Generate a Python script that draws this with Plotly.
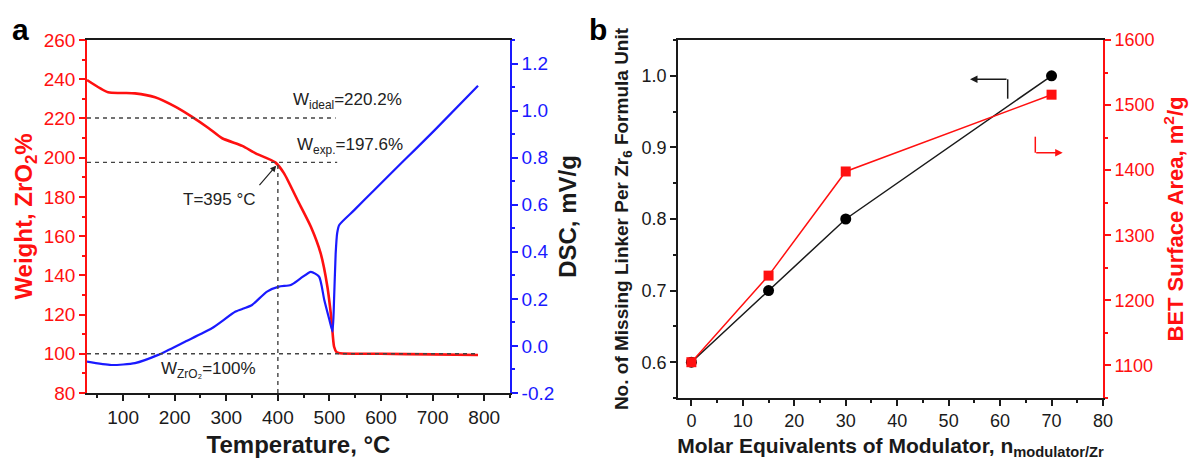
import plotly.graph_objects as go

# ---------------- data: panel a (TGA / DSC) ----------------
tga_temp = [30, 71, 100, 123, 162, 201, 233, 266, 292, 331, 357, 395, 412, 438,
            464, 483, 496, 504, 509, 514, 520, 600, 700, 788]
tga_weight = [239.6, 233.3, 233.0, 232.8, 230.8, 226.0, 220.9, 215.0, 209.9, 206.0,
              202.2, 197.6, 192.0, 178.4, 164.8, 151.2, 134.2, 117.2, 103.6, 100.8,
              100.3, 100.0, 99.7, 99.4]

dsc_temp = [30, 77, 123, 168, 220, 272, 318, 335, 350, 379, 402, 425, 444, 464, 480,
            490, 500, 506, 509, 512, 515, 519, 548, 587, 639, 665, 704, 788]
dsc_val = [-0.067, -0.081, -0.073, -0.038, 0.018, 0.075, 0.146, 0.16, 0.174, 0.231,
           0.252, 0.259, 0.287, 0.315, 0.294, 0.195, 0.11, 0.061, 0.2, 0.39, 0.48,
           0.514, 0.577, 0.663, 0.776, 0.832, 0.917, 1.106]

w_ideal = 220.2
w_exp = 197.6
w_zro2 = 100.0
t_onset = 400

temp_ticks = [100, 200, 300, 400, 500, 600, 700, 800]
weight_ticks = [80, 100, 120, 140, 160, 180, 200, 220, 240, 260]
dsc_ticks = [-0.2, 0.0, 0.2, 0.4, 0.6, 0.8, 1.0, 1.2]
dsc_ticktext = ["-0.2", "0.0", "0.2", "0.4", "0.6", "0.8", "1.0", "1.2"]

# ---------------- data: panel b ----------------
mod_eq = [0, 15, 30, 70]
missing_linker = [0.6, 0.7, 0.8, 1.0]
bet_area = [1105, 1238, 1398, 1516]

mod_ticks = [0, 10, 20, 30, 40, 50, 60, 70, 80]
ml_ticks = [0.6, 0.7, 0.8, 0.9, 1.0]
bet_ticks = [1100, 1200, 1300, 1400, 1500, 1600]

# ---------------- styling ----------------
W, H = 1200, 460
FONT = "Arial, 'Liberation Sans', sans-serif"
RED = "#ff1010"
BLUE = "#1a1aff"
BLACK = "#1a1a1a"
DASH = "#444444"


def px(x):
    return x / W


def py(y):
    return 1 - y / H


fig = go.Figure()

fig.add_trace(go.Scatter(x=tga_temp, y=tga_weight, mode="lines",
                         line=dict(color=RED, width=2.6, shape="spline", smoothing=0.6),
                         xaxis="x", yaxis="y", showlegend=False))
fig.add_trace(go.Scatter(x=dsc_temp, y=dsc_val, mode="lines",
                         line=dict(color=BLUE, width=2.2, shape="spline", smoothing=0.6),
                         xaxis="x", yaxis="y2", showlegend=False))

fig.add_trace(go.Scatter(x=mod_eq, y=missing_linker, mode="lines+markers",
                         line=dict(color=BLACK, width=1.5),
                         marker=dict(symbol="circle", size=11, color="black"),
                         xaxis="x2", yaxis="y3", showlegend=False))
fig.add_trace(go.Scatter(x=mod_eq, y=bet_area, mode="lines+markers",
                         line=dict(color=RED, width=1.5),
                         marker=dict(symbol="square", size=10, color=RED),
                         xaxis="x2", yaxis="y4", showlegend=False))


def axis_common(color, tickfs):
    return dict(showgrid=False, zeroline=False, showline=True, linecolor=color,
                linewidth=1.6, ticks="outside", ticklen=6, tickwidth=1.5,
                automargin=False,
                tickcolor=color, tickfont=dict(family=FONT, size=tickfs, color=color))


xa = axis_common(BLACK, 19)
xa.update(domain=[px(87), px(510)], range=[30, 850], anchor="y", mirror=True,
          tickmode="array", tickvals=temp_ticks,
          minor=dict(dtick=50, tick0=0, ticklen=3.5, ticks="outside", tickcolor=BLACK),
          title=dict(text="<b>Temperature, °C</b>", standoff=10,
                     font=dict(family=FONT, size=24, color=BLACK)))

ya = axis_common(RED, 19)
ya.update(domain=[py(393), py(40)], range=[80, 260], anchor="x",
          tickmode="array", tickvals=weight_ticks,
          minor=dict(dtick=10, tick0=0, ticklen=3.5, ticks="outside", tickcolor=RED),
          title=dict(text="<b>Weight, ZrO<sub>2</sub>%</b>", standoff=4,
                     font=dict(family=FONT, size=24, color=RED)))

ya2 = axis_common(BLUE, 19)
ya2.update(overlaying="y", side="right", anchor="x", range=[-0.2, 1.3],
           tickmode="array", tickvals=dsc_ticks, ticktext=dsc_ticktext,
           minor=dict(dtick=0.1, tick0=0, ticklen=3.5, ticks="outside", tickcolor=BLUE),
           title=dict(text="<b>DSC, mV/g</b>", standoff=6,
                      font=dict(family=FONT, size=24, color=BLACK)))

xb = axis_common(BLACK, 18)
xb.update(domain=[px(678), px(1103)], range=[-2.6, 80], anchor="y3", mirror=True,
          tickmode="array", tickvals=mod_ticks,
          minor=dict(dtick=5, tick0=0, ticklen=3.5, ticks="outside", tickcolor=BLACK),
          title=dict(text="<b>Molar Equivalents of Modulator, n<sub>modulator/Zr</sub></b>",
                     standoff=10, font=dict(family=FONT, size=21, color=BLACK)))

yb = axis_common(BLACK, 18)
yb.update(domain=[py(398), py(40)], range=[0.55, 1.05], anchor="x2",
          tickmode="array", tickvals=ml_ticks, tickformat=".1f",
          minor=dict(dtick=0.05, tick0=0, ticklen=3.5, ticks="outside", tickcolor=BLACK),
          title=dict(text="<b>No. of Missing Linker Per Zr<sub>6</sub> Formula Unit</b>",
                     standoff=8, font=dict(family=FONT, size=19, color=BLACK)))

yb2 = axis_common(RED, 18)
yb2.update(overlaying="y3", side="right", anchor="x2", range=[1050, 1600],
           tickmode="array", tickvals=bet_ticks,
           minor=dict(dtick=50, tick0=0, ticklen=3.5, ticks="outside", tickcolor=RED),
           title=dict(text="<b>BET Surface Area, m<sup>2</sup>/g</b>", standoff=14,
                      font=dict(family=FONT, size=22, color=RED)))

dash_line = dict(color=DASH, width=1.4, dash="4px,4px")
shapes = [
    dict(type="line", xref="x", yref="y", x0=30, x1=512, y0=w_ideal, y1=w_ideal,
         line=dash_line, layer="above"),
    dict(type="line", xref="x", yref="y", x0=30, x1=515, y0=w_exp, y1=w_exp,
         line=dash_line, layer="above"),
    dict(type="line", xref="x", yref="y", x0=t_onset, x1=t_onset, y0=80, y1=w_exp,
         line=dash_line, layer="above"),
    dict(type="line", xref="x", yref="y", x0=30, x1=788, y0=w_zro2, y1=w_zro2,
         line=dash_line, layer="above"),
    # L-shaped axis indicators in panel b
    dict(type="line", xref="paper", yref="paper", x0=px(1007.7), x1=px(1007.7),
         y0=py(79.3), y1=py(98.7), line=dict(color=BLACK, width=1.5)),
    dict(type="line", xref="paper", yref="paper", x0=px(1035.3), x1=px(1035.3),
         y0=py(136.7), y1=py(152.7), line=dict(color=RED, width=1.5)),
]

txt = dict(family=FONT, size=17, color="#222222")
ctr = dict(xref="paper", yref="paper", showarrow=False, xanchor="center",
           yanchor="middle")
annotations = [
    dict(text="<b>a</b>", x=px(20), y=py(30), font=dict(family=FONT, size=30,
                                                       color="black"), **ctr),
    dict(text="<b>b</b>", x=px(598), y=py(30), font=dict(family=FONT, size=30,
                                                        color="black"), **ctr),
    dict(text="W<sub>ideal</sub>=220.2%", x=px(347), y=py(101), font=txt, **ctr),
    dict(text="W<sub>exp.</sub>=197.6%", x=px(350), y=py(146), font=txt, **ctr),
    dict(text="T=395 °C", x=px(219), y=py(200), font=txt, **ctr),
    dict(text="W<sub>ZrO₂</sub>=100%", x=px(208), y=py(370), font=txt, **ctr),
    dict(text="", x=396.7, y=195.9, xref="x", yref="y", showarrow=True, ax=-18, ay=21,
         arrowhead=2, arrowsize=1, arrowwidth=1.2, arrowcolor="#222222"),
    dict(text="", x=px(970), y=py(79.3), xref="paper", yref="paper", showarrow=True,
         ax=38, ay=0, arrowhead=2, arrowsize=1, arrowwidth=1.5, arrowcolor=BLACK),
    dict(text="", x=px(1062.7), y=py(152.7), xref="paper", yref="paper", showarrow=True,
         ax=-28, ay=0, arrowhead=2, arrowsize=1, arrowwidth=1.5, arrowcolor=RED),
]

fig.update_layout(
    width=W, height=H, margin=dict(l=0, r=0, t=0, b=0, autoexpand=False),
    paper_bgcolor="white", plot_bgcolor="white",
    font=dict(family=FONT, color=BLACK),
    xaxis=xa, yaxis=ya, yaxis2=ya2, xaxis2=xb, yaxis3=yb, yaxis4=yb2,
    shapes=shapes, annotations=annotations, showlegend=False,
)

fig.write_html("out.html", config={"displayModeBar": False},
               post_script="document.body.style.margin='0';")
